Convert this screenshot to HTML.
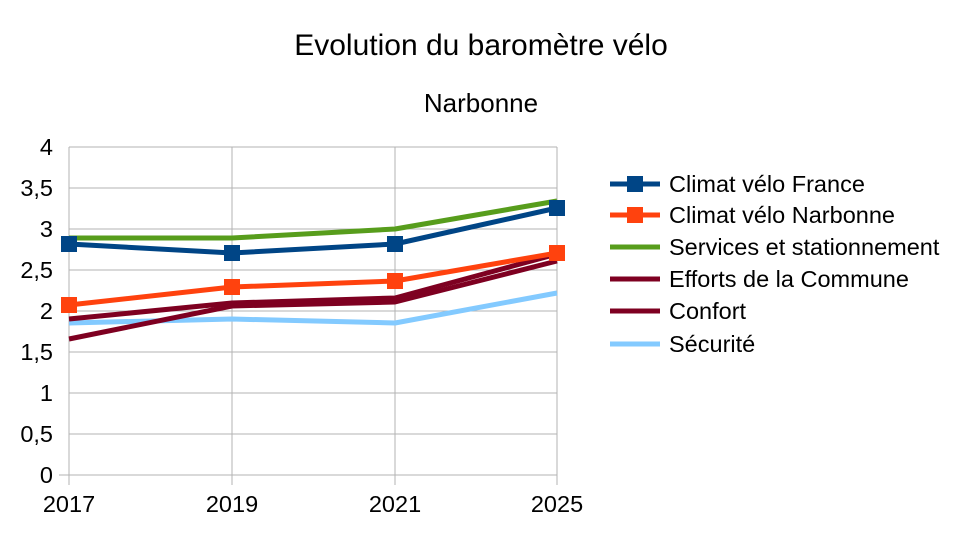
<!DOCTYPE html><html><head><style>body{margin:0;background:#fff}</style></head><body>
<svg width="963" height="528" xmlns="http://www.w3.org/2000/svg" font-family="Liberation Sans, sans-serif">
<rect width="963" height="528" fill="#fff"/>
<text x="481" y="55" font-size="30" text-anchor="middle">Evolution du baromètre vélo</text>
<text x="481" y="112" font-size="26" text-anchor="middle">Narbonne</text>
<g stroke="#b3b3b3" stroke-width="1">
<line x1="69" y1="147" x2="557" y2="147"/><line x1="69" y1="188" x2="557" y2="188"/>
<line x1="69" y1="229" x2="557" y2="229"/><line x1="69" y1="270" x2="557" y2="270"/>
<line x1="69" y1="311" x2="557" y2="311"/><line x1="69" y1="352" x2="557" y2="352"/>
<line x1="69" y1="393" x2="557" y2="393"/><line x1="69" y1="434" x2="557" y2="434"/>
<line x1="59" y1="475" x2="557" y2="475"/>
<line x1="69" y1="147" x2="69" y2="485"/><line x1="232" y1="147" x2="232" y2="485"/>
<line x1="395" y1="147" x2="395" y2="485"/><line x1="557" y1="147" x2="557" y2="485"/>
</g>
<g font-size="23.5" text-anchor="end">
<text x="53" y="155">4</text><text x="53" y="196">3,5</text><text x="53" y="237">3</text><text x="53" y="278">2,5</text><text x="53" y="319">2</text><text x="53" y="360">1,5</text><text x="53" y="401">1</text><text x="53" y="442">0,5</text><text x="53" y="483">0</text>
</g>
<g font-size="23.5" text-anchor="middle">
<text x="69" y="512">2017</text><text x="232" y="512">2019</text><text x="395" y="512">2021</text><text x="557" y="512">2025</text>
</g>
<g fill="none" stroke-width="5" stroke-linejoin="round">
<polyline stroke="#83caff" points="69,323 232,319 395,323 557,293"/>
<polyline stroke="#7e0021" points="69,339 232,306 395,302 557,261"/>
<polyline stroke="#7e0021" points="69,319 232,303 395,298 557,254"/>
<polyline stroke="#579d1c" points="69,238 232,238 395,229 557,201"/>
<polyline stroke="#ff420e" points="69,305 232,287 395,281 557,253"/>
<polyline stroke="#004586" points="69,244 232,253 395,244 557,208"/>
</g>
<g fill="#ff420e"><rect x="61" y="297" width="16" height="16"/><rect x="224" y="279" width="16" height="16"/><rect x="387" y="273" width="16" height="16"/><rect x="549" y="245" width="16" height="16"/></g>
<g fill="#004586"><rect x="61" y="236" width="16" height="16"/><rect x="224" y="245" width="16" height="16"/><rect x="387" y="236" width="16" height="16"/><rect x="549" y="200" width="16" height="16"/></g>
<g stroke-width="5">
<line x1="610" y1="184" x2="660" y2="184" stroke="#004586"/><rect x="627" y="176" width="16" height="16" fill="#004586"/>
<line x1="610" y1="215" x2="660" y2="215" stroke="#ff420e"/><rect x="627" y="207" width="16" height="16" fill="#ff420e"/>
<line x1="610" y1="247" x2="660" y2="247" stroke="#579d1c"/>
<line x1="610" y1="279" x2="660" y2="279" stroke="#7e0021"/>
<line x1="610" y1="311" x2="660" y2="311" stroke="#7e0021"/>
<line x1="610" y1="344" x2="660" y2="344" stroke="#83caff"/>
</g>
<g font-size="23.5">
<text x="669" y="192">Climat vélo France</text>
<text x="669" y="223">Climat vélo Narbonne</text>
<text x="669" y="255">Services et stationnement</text>
<text x="669" y="287">Efforts de la Commune</text>
<text x="669" y="319">Confort</text>
<text x="669" y="352">Sécurité</text>
</g>
</svg></body></html>
